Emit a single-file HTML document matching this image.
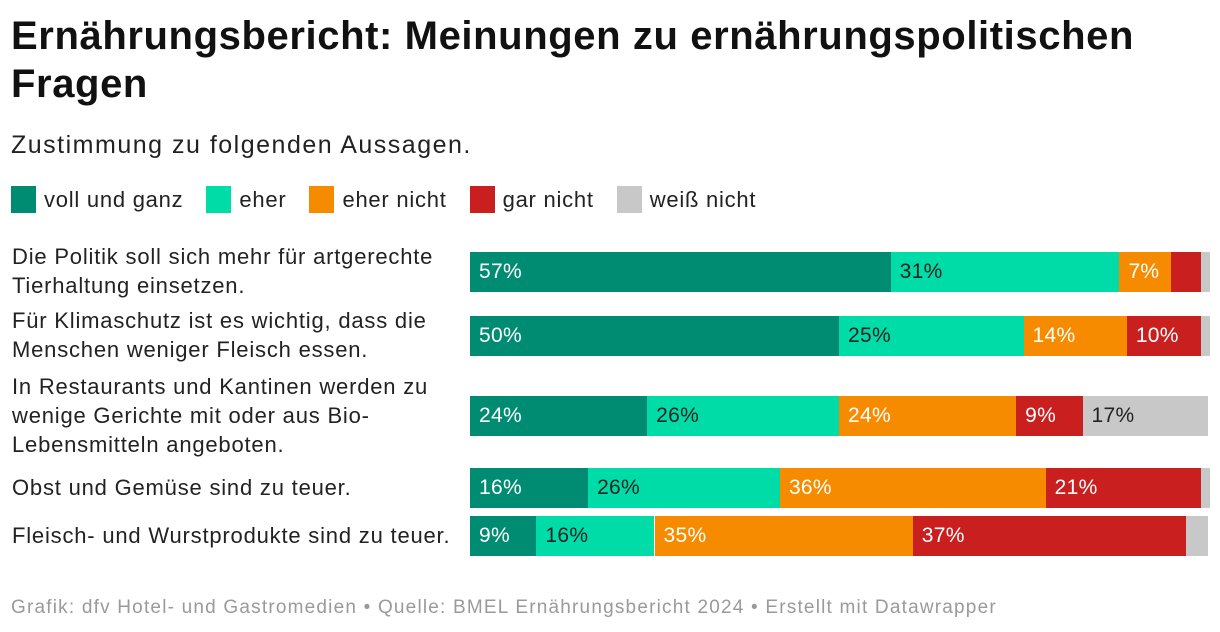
<!DOCTYPE html>
<html><head><meta charset="utf-8">
<style>
body{margin:0;width:1220px;height:632px;background:#fff;font-family:"Liberation Sans",Arial,sans-serif;color:#222;position:relative;overflow:hidden}
.t{position:absolute;left:11px;top:12px;font-size:40px;font-weight:bold;line-height:48px;color:#111;letter-spacing:0.6px}
.s{position:absolute;left:11px;top:131px;font-size:25px;color:#222;letter-spacing:1.5px}
.leg{position:absolute;top:186px;left:11px;display:flex;font-size:22px;align-items:center;letter-spacing:0.75px}
.leg span.sw{display:inline-block;width:25px;height:27px;margin-right:8px}
.leg div{display:flex;align-items:center;margin-right:23px}
.rl{position:absolute;left:12px;width:455px;font-size:22px;line-height:29px;color:#222;letter-spacing:0.8px}
.f{position:absolute;left:11px;top:597px;font-size:19px;color:#9a9a9a;letter-spacing:1.2px}
#bars div{position:absolute;height:40px;font-size:21px;line-height:40px;box-sizing:border-box;padding-left:9px;white-space:nowrap;overflow:hidden;letter-spacing:0.3px}
</style></head><body>
<div class="t">Ernährungsbericht: Meinungen zu ernährungspolitischen<br>Fragen</div>
<div class="s">Zustimmung zu folgenden Aussagen.</div>
<div class="leg">
<div><span class="sw" style="background:#008c72"></span>voll und ganz</div>
<div><span class="sw" style="background:#00dca8"></span>eher</div>
<div><span class="sw" style="background:#f78b00"></span>eher nicht</div>
<div><span class="sw" style="background:#c91f1f"></span>gar nicht</div>
<div><span class="sw" style="background:#c8c8c8"></span>weiß nicht</div>
</div>
<div id="labels"></div>
<div id="bars"></div>
<div class="f">Grafik: dfv Hotel- und Gastromedien • Quelle: BMEL Ernährungsbericht 2024 • Erstellt mit Datawrapper</div>
<script>
const categories=["Die Politik soll sich mehr für artgerechte<br>Tierhaltung einsetzen.","Für Klimaschutz ist es wichtig, dass die<br>Menschen weniger Fleisch essen.","In Restaurants und Kantinen werden zu<br>wenige Gerichte mit oder aus Bio-<br>Lebensmitteln angeboten.","Obst und Gemüse sind zu teuer.","Fleisch- und Wurstprodukte sind zu teuer."];
const vollUndGanz=[57,50,24,16,9];
const eher=[31,25,26,26,16];
const eherNicht=[7,14,24,36,35];
const garNicht=[4,10,9,21,37];
const weissNicht=[1,1,17,1,3];
const series=[vollUndGanz,eher,eherNicht,garNicht,weissNicht];
const colors=["#008c72","#00dca8","#f78b00","#c91f1f","#c8c8c8"];
const txt=["#fff","#222","#fff","#fff","#222"];
const rowTops=[252,316,396,468,516];
const X0=470,W=738;
const x=v=>X0+v/100*W;
const bars=document.getElementById('bars'),labels=document.getElementById('labels');
categories.forEach((c,i)=>{
  const l=document.createElement('div');l.className='rl';
  
  
  const lines=c.split('<br>').length;
  l.style.top=(rowTops[i]+20-lines*29/2-1)+'px';
  l.innerHTML=c;labels.appendChild(l);
  let cum=0;const tot=series.reduce((a,s)=>a+s[i],0);
  series.forEach((s,k)=>{
    const v=s[i]/tot*100;
    const b=document.createElement('div');
    
    
    b.style.left=x(cum)+'px';b.style.width=(x(cum+v)-x(cum))+'px';
    b.style.top=rowTops[i]+'px';b.style.background=colors[k];b.style.color=txt[k];
    if(s[i]>=5)b.textContent=s[i]+'%';
    bars.appendChild(b);cum+=v;
  });
});
</script>
</body></html>
